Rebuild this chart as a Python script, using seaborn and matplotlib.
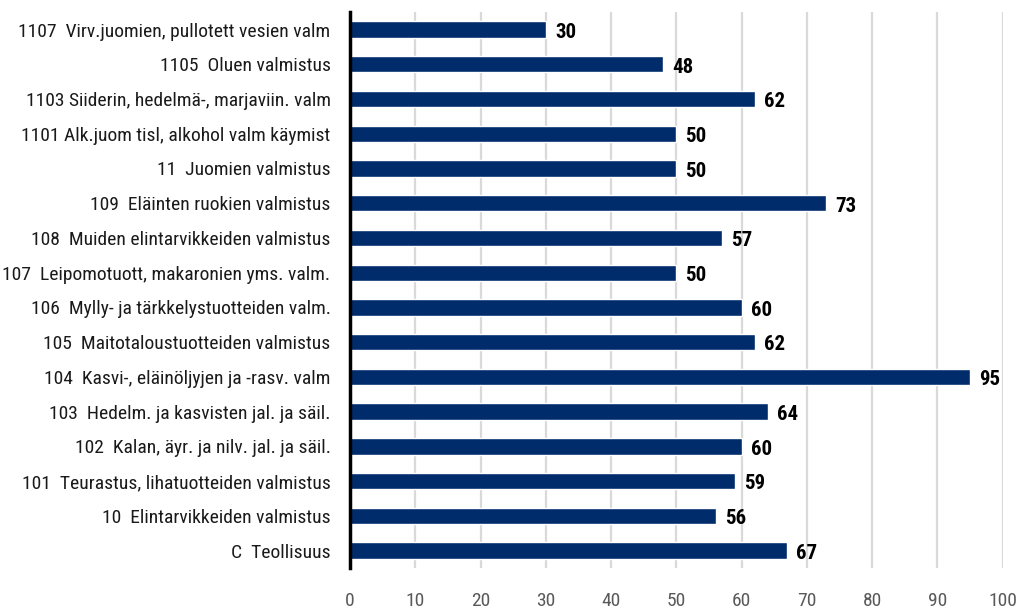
import matplotlib
matplotlib.use("Agg")
import matplotlib.pyplot as plt
import seaborn as sns
import pandas as pd

categories = [
    "1107  Virv.juomien, pullotett vesien valm",
    "1105  Oluen valmistus",
    "1103 Siiderin, hedelmä-, marjaviin. valm",
    "1101 Alk.juom tisl, alkohol valm käymist",
    "11  Juomien valmistus",
    "109  Eläinten ruokien valmistus",
    "108  Muiden elintarvikkeiden valmistus",
    "107  Leipomotuott, makaronien yms. valm.",
    "106  Mylly- ja tärkkelystuotteiden valm.",
    "105  Maitotaloustuotteiden valmistus",
    "104  Kasvi-, eläinöljyjen ja -rasv. valm",
    "103  Hedelm. ja kasvisten jal. ja säil.",
    "102  Kalan, äyr. ja nilv. jal. ja säil.",
    "101  Teurastus, lihatuotteiden valmistus",
    "10  Elintarvikkeiden valmistus",
    "C  Teollisuus",
]
values = [30, 48, 62, 50, 50, 73, 57, 50, 60, 62, 95, 64, 60, 59, 56, 67]
x_ticks = [0, 10, 20, 30, 40, 50, 60, 70, 80, 90, 100]

sns.set_theme(style="white")
plt.rcParams["font.family"] = ["Liberation Sans Narrow", "Roboto Condensed",
                               "DejaVu Sans"]
plt.rcParams["font.stretch"] = "condensed"

df = pd.DataFrame({"category": categories, "value": values})

fig = plt.figure(figsize=(10.19, 6.10), dpi=100)
ax = fig.add_axes([0.3435, 0.069, 0.6405, 0.911])

sns.barplot(data=df, x="value", y="category", color="#002C6C",
            saturation=1, width=0.47, ax=ax, zorder=3)

ax.set_xlim(0, 100)
ax.set_ylim(len(categories) - 0.5, -0.5)
ax.set_xticks(x_ticks)
ax.set_xticklabels([str(t) for t in x_ticks], color="#595959", fontsize=14)
ax.tick_params(axis="x", length=0, pad=17)
ax.tick_params(axis="y", length=0, pad=14, labelsize=14, labelcolor="#1a1a1a")
ax.set_xlabel("")
ax.set_ylabel("")

ax.grid(axis="x", color="#d9d9d9", linewidth=1.6, zorder=0)
ax.grid(axis="y", visible=False)
for side in ["top", "right", "bottom"]:
    ax.spines[side].set_visible(False)
ax.spines["left"].set_color("black")
ax.spines["left"].set_linewidth(2.5)
ax.spines["left"].set_zorder(5)

for i, v in enumerate(values):
    ax.text(v + 1.4, i + 0.08, str(v), va="center", ha="left",
            fontsize=15, fontweight="bold", color="black")

fig.savefig("out.png", dpi=100)
